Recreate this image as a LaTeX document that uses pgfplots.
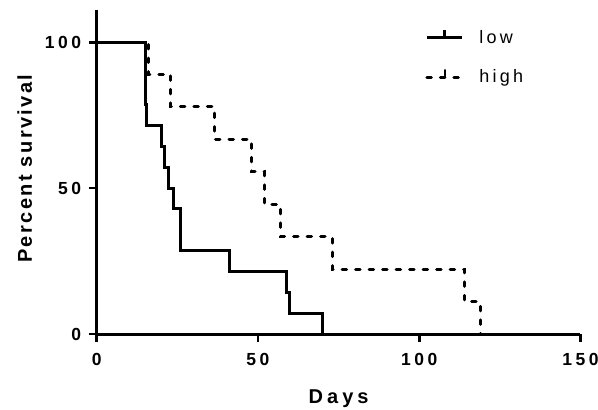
\documentclass[border=0pt]{standalone}
\usepackage{fontspec}
\usepackage{pgfplots}
\pgfplotsset{compat=1.18}
\setmainfont{Liberation Sans}
\newfontfamily\tickfont{Liberation Sans}[LetterSpace=20]
\newfontfamily\xlabfont{Liberation Sans}[LetterSpace=20]
\newfontfamily\ylabfont{Liberation Sans}[LetterSpace=12]
\newfontfamily\legfont{Liberation Sans}[LetterSpace=18]

\begin{document}
\begin{tikzpicture}
\useasboundingbox (-96.7pt,-76pt) rectangle (501.3pt,334pt);
\begin{axis}[
    scale only axis,
    width=483.8pt, height=324pt,
    xmin=0, xmax=150, ymin=0, ymax=111,
    xtick={0,50,100,150}, ytick={0,50,100},
    axis x line*=bottom, axis y line*=left,
    axis line style={-, line width=3pt},
    tick align=outside, major tick length=8pt,
    tick style={line width=2.8pt, black},
    /pgf/number format/assume math mode=true,
    ticklabel style={font=\tickfont\bfseries\fontsize{17.5}{18}\selectfont},
    xticklabel style={yshift=-8pt},
    yticklabel style={xshift=-4pt},
    xlabel={Days}, ylabel={Percent survival},
    xlabel style={font=\xlabfont\bfseries\fontsize{20}{20}\selectfont,
        at={(axis description cs:0.5,-0.216)}, anchor=base},
    ylabel style={font=\ylabfont\bfseries\fontsize{20}{20}\selectfont,
        at={(axis description cs:-0.134,0.51)}, anchor=base, rotate=0},
    legend style={draw=none, fill=none, at={(0.679,0.944)}, anchor=north west,
        inner sep=0pt, row sep=21pt,
        font=\legfont\fontsize{18}{18}\selectfont},
    legend cell align=left,
    legend columns=1,
]
\addplot[const plot, line width=3pt, solid,
    legend image code/.code={
        \draw[solid, line width=3pt] (0pt,0pt) -- (35pt,0pt);
        \draw[solid, line width=2.5pt] (17.5pt,0pt) -- (17.5pt,8pt);
        \path (49pt,0pt);}]
coordinates {(0,100) (15,78.6) (15.5,71.4) (20.1,64.3) (21.1,57.1) (22.2,50) (23.7,42.9) (26,28.6) (41.1,21.4) (58.8,14.3) (59.8,7.1) (70,0)};
\addplot[const plot, line width=3pt, line cap=round, dash pattern=on 4.5pt off 9pt,
    legend image code/.code={
        \draw[line width=3pt, line cap=round, dash pattern=on 4.5pt off 9pt] (0pt,0pt) -- (35pt,0pt);
        \draw[solid, line width=2.5pt] (18pt,0pt) -- (18pt,7pt);
        \path (49pt,0pt);}]
coordinates {(0,100) (16,88.9) (23,77.8) (36.6,66.7) (48,55.6) (52,44.4) (57,33.3) (73,22.2) (114,11.1) (119,0)};
\legend{low, high}
\end{axis}
\end{tikzpicture}
\end{document}
